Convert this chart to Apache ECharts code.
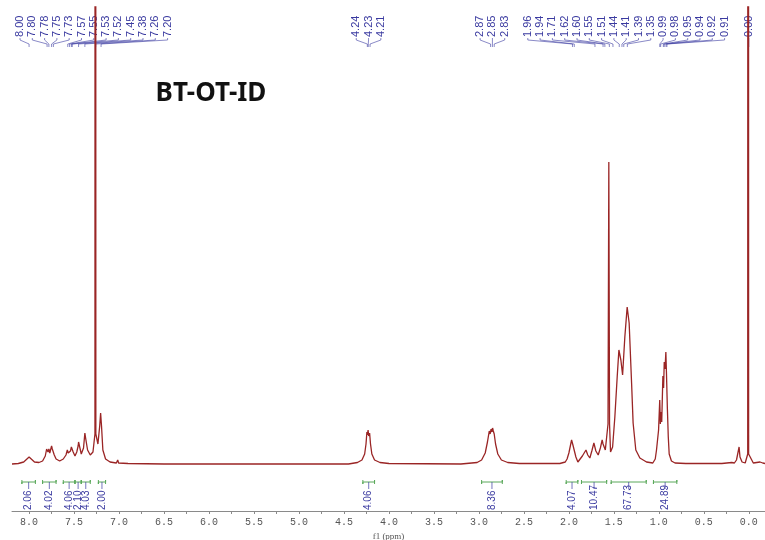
<!DOCTYPE html>
<html>
<head>
<meta charset="utf-8">
<script src="https://cdn.jsdelivr.net/npm/echarts@6/dist/echarts.min.js"></script>
<style>
  html, body { margin: 0; padding: 0; background: #fff; }
  #chart { width: 765px; height: 540px; }
</style>
</head>
<body>
<div id="chart"></div>
<script>
// 1H NMR trace: [shift (ppm), intensity]
const spectrum = [
  [8.19, 0], [8.12, 0.5], [8.06, 2], [8.03, 4.5], [8.00, 7], [7.97, 4.5], [7.94, 2], [7.89, 1.5],
  [7.85, 3], [7.82, 8], [7.805, 15], [7.80, 16], [7.79, 12], [7.78, 15], [7.77, 11], [7.76, 12],
  [7.75, 18], [7.742, 15], [7.735, 17], [7.73, 16], [7.72, 9], [7.70, 5], [7.66, 3], [7.62, 5],
  [7.59, 9], [7.575, 14], [7.565, 11], [7.55, 12], [7.54, 13], [7.53, 17], [7.52, 18], [7.51, 12],
  [7.49, 8], [7.47, 12], [7.455, 18], [7.45, 22], [7.44, 18], [7.42, 10], [7.405, 9], [7.395, 16],
  [7.385, 26], [7.38, 31], [7.37, 25], [7.35, 14], [7.32, 9], [7.29, 12], [7.268, 30], [7.263, 3000],
  [7.258, 30], [7.235, 20], [7.215, 38], [7.205, 51], [7.195, 38], [7.18, 14], [7.15, 5], [7.10, 2],
  [7.03, 1], [7.015, 4], [7.005, 1], [6.90, 0.5], [6.50, 0],
  [4.45, 0], [4.35, 1.5], [4.30, 4], [4.27, 10], [4.255, 20], [4.245, 32], [4.24, 29], [4.232, 34],
  [4.225, 28], [4.215, 31], [4.205, 20], [4.19, 10], [4.16, 4], [4.10, 1.5], [4.00, 0.5],
  [3.20, 0], [3.02, 1.5], [2.97, 4], [2.93, 11], [2.905, 22], [2.885, 33], [2.875, 30], [2.865, 35],
  [2.855, 32], [2.848, 36], [2.84, 33], [2.83, 30], [2.815, 20], [2.79, 10], [2.75, 4], [2.68, 1.5],
  [2.55, 0.5], [2.10, 0.5], [2.04, 2], [2.02, 5], [2.00, 11], [1.97, 24], [1.955, 19], [1.94, 21],
  [1.922, 7], [1.90, 2], [1.878, 1.5], [1.85, 8], [1.81, 14], [1.79, 9], [1.767, 6], [1.745, 13],
  [1.722, 21], [1.70, 13], [1.674, 9], [1.65, 16], [1.63, 24], [1.62, 20], [1.611, 19], [1.595, 14],
  [1.565, 40], [1.556, 302], [1.548, 40], [1.537, 12], [1.514, 17], [1.489, 47], [1.463, 87],
  [1.444, 114], [1.422, 104], [1.403, 89], [1.378, 127], [1.352, 157], [1.33, 141], [1.303, 81],
  [1.286, 41], [1.256, 14], [1.211, 6], [1.137, 2], [1.067, 1], [1.04, 5], [1.026, 14], [1.003, 34],
  [0.99, 64], [0.983, 40], [0.976, 52], [0.968, 42], [0.955, 88], [0.947, 76], [0.94, 102],
  [0.931, 95], [0.922, 112], [0.915, 90], [0.905, 55], [0.895, 27], [0.885, 10], [0.86, 3],
  [0.82, 1], [0.70, 0.5], [0.30, 0.5], [0.19, 1.5], [0.174, 2], [0.16, 1], [0.137, 4], [0.125, 2],
  [0.108, 17], [0.098, 7], [0.089, 7], [0.075, 2], [0.04, 1], [0.012, 10], [0.007, 3000],
  [0.002, 10], [-0.05, 1], [-0.125, 2], [-0.141, 4], [-0.155, 1], [-0.18, 0.5]
];

// picked peaks printed at the top
const peakLabels = [
  8.00, 7.80, 7.78, 7.75, 7.73, 7.57, 7.55, 7.53, 7.52, 7.45, 7.38, 7.26, 7.20,
  4.24, 4.23, 4.21,
  2.87, 2.85, 2.83,
  1.96, 1.94, 1.71, 1.62, 1.60, 1.55, 1.51, 1.44, 1.41, 1.39, 1.35,
  0.99, 0.98, 0.95, 0.94, 0.92, 0.91, 0.00
];

// integration regions (ppm from, ppm to) and their values
const integralRanges = [
  [8.08, 7.93], [7.85, 7.70], [7.62, 7.49], [7.49, 7.42], [7.42, 7.32], [7.23, 7.15],
  [4.29, 4.16], [2.97, 2.74], [2.03, 1.90], [1.86, 1.58], [1.53, 1.14], [1.06, 0.80]
];
const integralValues = [
  "2.06", "4.02", "4.06", "2.10", "4.03", "2.00",
  "4.06", "8.36", "4.07", "10.47", "67.73", "24.89"
];

const tickValues = [
  0, 0.25, 0.5, 0.75, 1, 1.25, 1.5, 1.75, 2, 2.25, 2.5, 2.75, 3, 3.25, 3.5, 3.75,
  4, 4.25, 4.5, 4.75, 5, 5.25, 5.5, 5.75, 6, 6.25, 6.5, 6.75, 7, 7.25, 7.5, 7.75, 8
];
const labelValues = [0, 0.5, 1, 1.5, 2, 2.5, 3, 3.5, 4, 4.5, 5, 5.5, 6, 6.5, 7, 7.5, 8];

const title = "BT-OT-ID";

const chart = echarts.init(document.getElementById("chart"));

let option = {
  animation: false,
  backgroundColor: "#fff",
  grid: { left: 12, right: 0, top: 7, bottom: 29, outerBoundsMode: "none", containLabel: false },
  xAxis: {
    type: "value",
    inverse: true,
    min: -0.18,
    max: 8.19,
    name: "f1 (ppm)",
    nameLocation: "middle",
    nameGap: 15,
    nameTextStyle: { color: "#555", fontSize: 9, fontFamily: "Liberation Serif" },
    axisLine: { onZero: false, lineStyle: { color: "#8a8a8a", width: 1 } },
    axisTick: { show: true, length: 3, customValues: tickValues, lineStyle: { color: "#8a8a8a" } },
    axisLabel: {
      customValues: labelValues,
      color: "#555",
      fontSize: 10,
      fontFamily: "Liberation Mono",
      margin: 6,
      formatter: v => v.toFixed(1)
    },
    splitLine: { show: false }
  },
  yAxis: { type: "value", min: -47, max: 457, show: false },
  series: [
    {
      type: "line",
      data: spectrum,
      showSymbol: false,
      smooth: false,
      clip: true,
      lineStyle: { color: "#9a2525", width: 1.3 }
    }
  ]
};
chart.setOption(option);

// spread labels so they don't overlap (pool adjacent blocks, then clamp)
function spread(xs, gap, lo, hi) {
  const blocks = [];
  xs.forEach(function (x) {
    let b = { n: 1, adj: x };
    while (blocks.length) {
      const a = blocks[blocks.length - 1];
      if (a.adj / a.n + a.n * gap > b.adj / b.n) {
        b = { n: a.n + b.n, adj: a.adj + b.adj - gap * a.n * b.n };
        blocks.pop();
      } else break;
    }
    blocks.push(b);
  });
  const out = [];
  blocks.forEach(function (b) {
    const p = b.adj / b.n;
    for (let k = 0; k < b.n; k++) out.push(p + k * gap);
  });
  for (let i = 0; i < out.length; i++) {
    const m = i ? out[i - 1] + gap : lo;
    if (out[i] < m) out[i] = m;
  }
  for (let i = out.length - 1; i >= 0; i--) {
    const m = i < out.length - 1 ? out[i + 1] - gap : hi;
    if (out[i] > m) out[i] = m;
  }
  return out;
}

const px = v => chart.convertToPixel({ xAxisIndex: 0 }, v);
const blue = "#3a3aa0";
const green = "#5aa85a";
const elements = [];

// peak labels + leaders
const peakX = peakLabels.map(px);
const peakLX = spread(peakX, 12.3, 20, 758);
peakLabels.forEach(function (p, i) {
  elements.push({
    type: "text", x: peakLX[i], y: 37, rotation: Math.PI / 2, silent: true,
    style: { text: p.toFixed(2), fill: blue, font: '11px "Liberation Sans"', align: "left", verticalAlign: "middle" }
  });
  elements.push({
    type: "polyline", silent: true,
    shape: { points: [[peakLX[i], 38], [peakLX[i], 40], [peakX[i], 44], [peakX[i], 47]] },
    style: { stroke: blue, lineWidth: 0.7, fill: null, opacity: 0.85 }
  });
});

// integration brackets + values
const intCX = integralRanges.map(r => px((r[0] + r[1]) / 2));
const intLX = spread(intCX, 6.8, 20, 758);
integralRanges.forEach(function (r, i) {
  const x1 = px(r[0]), x2 = px(r[1]), cx = intCX[i];
  elements.push({
    type: "polyline", silent: true,
    shape: { points: [[x1, 480], [x1, 484], [x1, 482], [x2, 482], [x2, 480], [x2, 484]] },
    style: { stroke: green, lineWidth: 1, fill: null }
  });
  elements.push({
    type: "polyline", silent: true,
    shape: { points: [[cx, 482], [cx, 486], [intLX[i], 489]] },
    style: { stroke: blue, lineWidth: 0.7, fill: null }
  });
  elements.push({
    type: "text", x: intLX[i], y: 510, rotation: Math.PI / 2, silent: true,
    style: { text: integralValues[i], fill: blue, font: '10px "Liberation Sans"', align: "left", verticalAlign: "middle" }
  });
});

elements.push({
  type: "text", x: 211, y: 94, silent: true,
  style: { text: title, fill: "#111", font: 'bold 26px "Noto Sans"', align: "center", verticalAlign: "middle" }
});

chart.setOption({ graphic: elements });
</script>
</body>
</html>
